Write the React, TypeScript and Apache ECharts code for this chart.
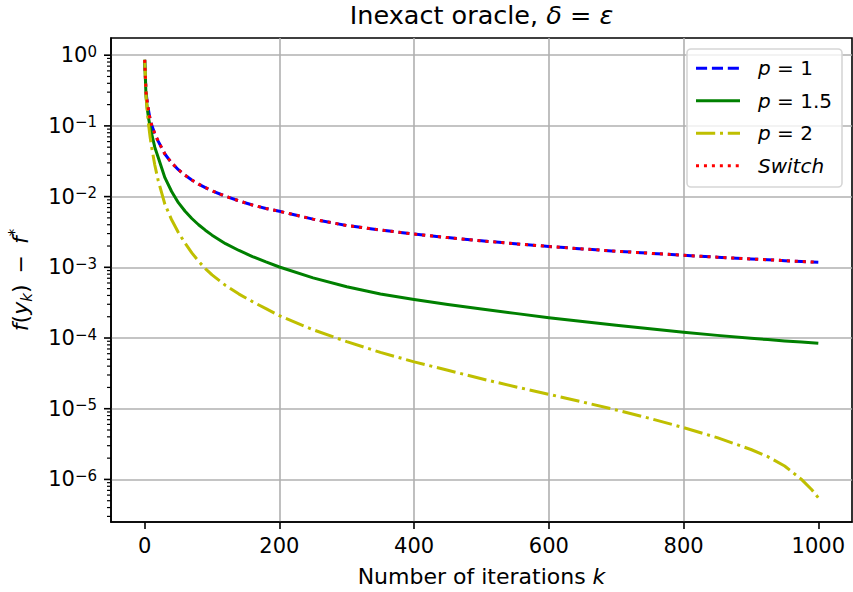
import React, { useEffect, useRef } from "react";
import * as echarts from "echarts";

const FONT = "DejaVu Sans";

const iterations = [0, 2, 4, 6, 8, 10, 15, 20, 30, 40, 50, 60, 70, 80, 90, 100, 120, 140, 160, 180, 200, 250, 300, 350, 400, 450, 500, 550, 600, 650, 700, 750, 800, 850, 900, 925, 950, 975, 990, 1000];

const p1Values = [0.86, 0.30, 0.21, 0.16, 0.125, 0.105, 0.078, 0.061, 0.040, 0.030, 0.024, 0.020, 0.0172, 0.0150, 0.0134, 0.0121, 0.0101, 0.0087, 0.0076, 0.0068, 0.0062, 0.0048, 0.0039, 0.00337, 0.00295, 0.00263, 0.00237, 0.00215, 0.00197, 0.00182, 0.00169, 0.00158, 0.00148, 0.00139, 0.00131, 0.00128, 0.00124, 0.00121, 0.00119, 0.00118];

const p15Values = [0.86, 0.26, 0.17, 0.125, 0.098, 0.08, 0.05, 0.036, 0.0185, 0.0118, 0.0082, 0.0062, 0.0049, 0.0040, 0.00335, 0.00285, 0.00216, 0.00173, 0.00142, 0.00119, 0.00101, 0.00071, 0.00053, 0.00042, 0.00035, 0.000298, 0.000258, 0.000223, 0.000194, 0.000171, 0.000152, 0.000135, 0.000121, 0.000109, 0.000099, 0.000095, 0.000091, 0.0000875, 0.0000855, 0.000084];

const p2Values = [0.86, 0.28, 0.15, 0.10, 0.07, 0.052, 0.028, 0.017, 0.0078, 0.0047, 0.0031, 0.0022, 0.0016, 0.00122, 0.00096, 0.00078, 0.000555, 0.000418, 0.000327, 0.00026, 0.000207, 0.000131, 0.000089, 0.0000626, 0.000046, 0.000035, 0.0000265, 0.0000205, 0.000016, 0.00001245, 0.0000096, 0.0000073, 0.0000054, 0.0000039, 0.00000265, 0.0000021, 0.00000155, 0.000001, 0.00000072, 0.00000055];

const switchValues = [0.86, 0.30, 0.21, 0.16, 0.125, 0.105, 0.078, 0.061, 0.040, 0.030, 0.024, 0.020, 0.0172, 0.0150, 0.0134, 0.0121, 0.0101, 0.0087, 0.0076, 0.0068, 0.0062, 0.0048, 0.0039, 0.00337, 0.00295, 0.00263, 0.00237, 0.00215, 0.00197, 0.00182, 0.00169, 0.00158, 0.00148, 0.00139, 0.00131, 0.00128, 0.00124, 0.00121, 0.00119, 0.00118];

const xTickValues = [0, 200, 400, 600, 800, 1000];
const yMajorExponents = [-6, -5, -4, -3, -2, -1, 0];
const yMinorMultipliers = [2, 3, 4, 5, 6, 7, 8, 9];

const X_MIN = -50;
const X_MAX = 1050;
const Y_MIN = 2.5e-7;
const Y_MAX = 1.75;

const legendItems = [
  { label: "{i|p} = 1", color: "#0000ff", dash: [11.1, 4.8] as number[] | null },
  { label: "{i|p} = 1.5", color: "#008000", dash: null },
  { label: "{i|p} = 2", color: "#bfbf00", dash: [19.2, 4.8, 3, 4.8] },
  { label: "{i|Switch}", color: "#ff0000", dash: [3, 4.95] },
];

function pairs(vals: number[]) {
  return iterations.map((k, i) => [k, vals[i]]);
}

export default function App() {
  const ref = useRef<HTMLDivElement>(null);

  useEffect(() => {
    document.body.style.margin = "0";
    if (!ref.current) return;
    const chart = echarts.init(ref.current, undefined, { renderer: "svg" });

    const tickData: number[][] = [];
    yMajorExponents.forEach((e) => tickData.push([X_MIN, Math.pow(10, e), 7, 1.6]));
    for (let e = -7; e <= 0; e++) {
      yMinorMultipliers.forEach((m) => {
        const v = m * Math.pow(10, e);
        if (v >= Y_MIN && v <= Y_MAX) tickData.push([X_MIN, v, 4, 1.2]);
      });
    }

    const legendX = 687;
    const legendY = 49;
    const rowY = [68.3, 100.7, 133.3, 165.7];
    const legendGraphics: any[] = [
      {
        type: "rect",
        shape: { x: legendX, y: legendY, width: 155, height: 138, r: 4 },
        style: { fill: "rgba(255,255,255,0.8)", stroke: "#d6d6d6", lineWidth: 1.6 },
        z: 100,
      },
    ];
    legendItems.forEach((it, i) => {
      legendGraphics.push({
        type: "line",
        shape: { x1: 696, y1: rowY[i], x2: 740, y2: rowY[i] },
        style: { stroke: it.color, lineWidth: 3, lineDash: it.dash || undefined, lineCap: "butt" },
        z: 101,
      });
      legendGraphics.push({
        type: "text",
        x: 758,
        y: rowY[i],
        style: {
          text: it.label,
          fontFamily: FONT,
          fontSize: 20,
          fill: "#000",
          verticalAlign: "middle",
          align: "left",
          rich: { i: { fontStyle: "italic", fontFamily: FONT, fontSize: 20, fill: "#000" } },
        },
        z: 101,
      });
    });

    const lineSeries = (name: string, vals: number[], color: string, type: any) => ({
      name,
      type: "line",
      data: pairs(vals),
      showSymbol: false,
      symbol: "none",
      lineStyle: { color, width: 3, type, cap: "butt", join: "round" },
      itemStyle: { color },
      z: 3,
    });

    chart.setOption({
      animation: false,
      backgroundColor: "#ffffff",
      title: {
        text: "Inexact oracle, {i|δ} = {i|ε}",
        left: 481.5,
        top: 2,
        padding: 0,
        textAlign: "center",
        textStyle: {
          fontFamily: FONT,
          fontSize: 25.5,
          fontWeight: "normal",
          color: "#000",
          rich: { i: { fontStyle: "italic", fontFamily: FONT, fontSize: 25.5, color: "#000" } },
        },
      },
      grid: {
        left: 111,
        right: 1,
        top: 38,
        bottom: 70,
        containLabel: false,
        outerBoundsMode: "none",
        show: true,
        borderColor: "#000",
        borderWidth: 1.6,
        backgroundColor: "transparent",
      },
      xAxis: {
        type: "value",
        min: X_MIN,
        max: X_MAX,
        name: "Number of iterations {i|k}",
        nameLocation: "middle",
        nameGap: 43,
        nameMoveOverlap: false,
        nameTextStyle: {
          fontFamily: FONT,
          fontSize: 22,
          color: "#000",
          rich: { i: { fontStyle: "italic", fontFamily: FONT, fontSize: 22, color: "#000" } },
        },
        axisLine: { show: true, onZero: false, lineStyle: { color: "#000", width: 1.6 } },
        axisTick: { show: true, length: 7, customValues: xTickValues, lineStyle: { color: "#000", width: 1.6 } },
        axisLabel: {
          customValues: xTickValues,
          margin: 13,
          fontFamily: FONT,
          fontSize: 21,
          color: "#000",
          formatter: (v: number) => String(Math.round(v)),
        },
        splitLine: { show: true, showMinLine: false, showMaxLine: false, lineStyle: { color: "#b0b0b0", width: 1.6 } },
      },
      yAxis: {
        type: "log",
        logBase: 10,
        min: Y_MIN,
        max: Y_MAX,
        name: "{i|f}({i|y}{sub|k})\u2002−\u2002{i|f}{sup|*}",
        nameLocation: "middle",
        nameRotate: 90,
        nameGap: 77,
        nameMoveOverlap: false,
        nameTextStyle: {
          fontFamily: FONT,
          fontSize: 22,
          color: "#000",
          lineHeight: 27,
          rich: {
            i: { fontStyle: "italic", fontFamily: FONT, fontSize: 22, color: "#000", lineHeight: 27 },
            sub: { fontStyle: "italic", fontFamily: FONT, fontSize: 15, color: "#000", lineHeight: 15, verticalAlign: "bottom" },
            sup: { fontFamily: FONT, fontSize: 15, color: "#000", lineHeight: 15, verticalAlign: "top" },
          },
        },
        axisLine: { show: true, onZero: false, lineStyle: { color: "#000", width: 1.6 } },
        axisTick: { show: false },
        minorTick: { show: false },
        axisLabel: {
          margin: 14,
          fontFamily: FONT,
          fontSize: 21,
          color: "#000",
          formatter: (v: number) => {
            const e = Math.log10(v);
            const r = Math.round(e);
            if (Math.abs(e - r) > 1e-6) return "";
            const s = r < 0 ? "−" + String(-r) : String(r);
            return "{b|10}{s|" + s + "}";
          },
          rich: {
            b: { fontFamily: FONT, fontSize: 21, color: "#000", lineHeight: 22 },
            s: { fontFamily: FONT, fontSize: 15, color: "#000", lineHeight: 15, verticalAlign: "top" },
          },
        },
        splitLine: { show: true, showMinLine: false, showMaxLine: false, lineStyle: { color: "#b0b0b0", width: 1.6 } },
      },
      series: [
        lineSeries("p = 1", p1Values, "#0000ff", [11.1, 4.8]),
        lineSeries("p = 1.5", p15Values, "#008000", "solid"),
        lineSeries("p = 2", p2Values, "#bfbf00", [19.2, 4.8, 3, 4.8]),
        lineSeries("Switch", switchValues, "#ff0000", [3, 4.95]),
        {
          name: "yticks",
          type: "custom",
          clip: false,
          silent: true,
          z: 4,
          encode: { x: 0, y: 1 },
          data: tickData,
          renderItem: (params: any, api: any) => {
            const p = api.coord([api.value(0), api.value(1)]);
            const len = api.value(2);
            return {
              type: "line",
              shape: { x1: p[0] - len, y1: p[1], x2: p[0], y2: p[1] },
              style: { stroke: "#000", lineWidth: api.value(3) },
            };
          },
        },
      ],
      graphic: legendGraphics,
    });

    return () => chart.dispose();
  }, []);

  return <div ref={ref} style={{ width: 853, height: 592 }} />;
}
